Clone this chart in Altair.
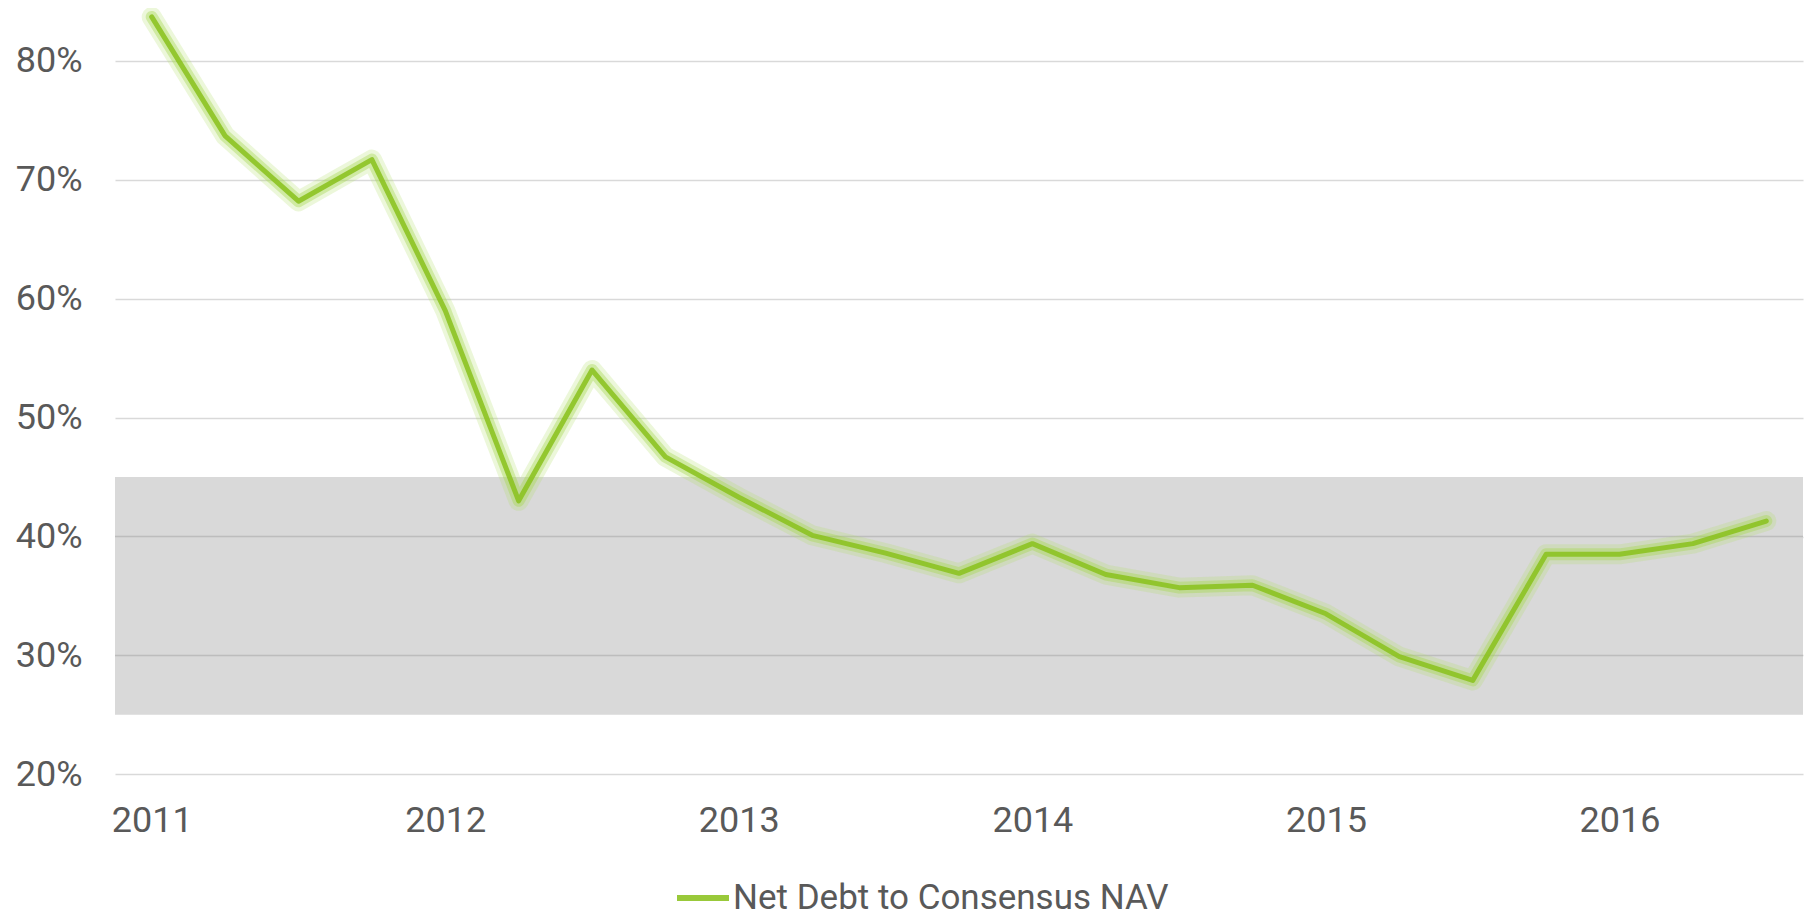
import altair as alt
import pandas as pd

quarters = [
    "2011 Q1", "2011 Q2", "2011 Q3", "2011 Q4",
    "2012 Q1", "2012 Q2", "2012 Q3", "2012 Q4",
    "2013 Q1", "2013 Q2", "2013 Q3", "2013 Q4",
    "2014 Q1", "2014 Q2", "2014 Q3", "2014 Q4",
    "2015 Q1", "2015 Q2", "2015 Q3", "2015 Q4",
    "2016 Q1", "2016 Q2", "2016 Q3",
]
net_debt_pct = [
    83.7, 73.7, 68.2, 71.7,
    59.0, 43.0, 54.0, 46.7,
    43.3, 40.1, 38.6, 36.9,
    39.4, 36.8, 35.7, 35.9,
    33.5, 29.9, 27.9, 38.5,
    38.5, 39.4, 41.3,
]
series_name = "Net Debt to Consensus NAV"
band_low = [25]
band_high = [45]
y_ticks = [20, 30, 40, 50, 60, 70, 80]
band_grid = [30, 40]

df = pd.DataFrame({"quarter": quarters, "value": net_debt_pct, "series": series_name})
band_df = pd.DataFrame({"low": band_low, "high": band_high})
grid_df = pd.DataFrame({"v": band_grid})

FONT = "Roboto"
TXT = "#595959"
GREEN = "#8BC21F"

x_enc = alt.X(
    "quarter:N",
    sort=quarters,
    scale=alt.Scale(type="point", padding=0.5),
    axis=alt.Axis(
        title=None,
        labelExpr="slice(datum.value, 5) == 'Q1' ? slice(datum.value, 0, 4) : ''",
        labelAngle=0,
        labelOverlap=False,
        ticks=False,
        domain=False,
        grid=False,
        labelFontSize=36,
        labelFont=FONT,
        labelColor=TXT,
        labelPadding=29,
        labelBaseline="top",
    ),
)
y_scale = alt.Scale(domain=[20, 84.45], nice=False, zero=False)
y_enc = alt.Y(
    "value:Q",
    scale=y_scale,
    axis=alt.Axis(
        title=None,
        values=y_ticks,
        labelExpr="datum.value + '%'",
        ticks=False,
        domain=False,
        grid=True,
        gridColor="#D9D9D9",
        gridWidth=1.5,
        labelFontSize=36,
        labelFont=FONT,
        labelColor=TXT,
        labelPadding=33,
    ),
)

band = alt.Chart(band_df).mark_rect(color="#D9D9D9").encode(
    y=alt.Y("low:Q", scale=y_scale),
    y2="high:Q",
)
band_rules = alt.Chart(grid_df).mark_rule(color="#BDBDBD", strokeWidth=1.5).encode(
    y=alt.Y("v:Q", scale=y_scale)
)

glow1 = alt.Chart(df).mark_line(
    color="#B5DE6A", strokeWidth=20, opacity=0.25, strokeJoin="round", strokeCap="round"
).encode(x=x_enc, y=y_enc)
glow2 = alt.Chart(df).mark_line(
    color="#A6D64E", strokeWidth=12, opacity=0.4, strokeJoin="round", strokeCap="round"
).encode(x=x_enc, y=y_enc)
line = alt.Chart(df).mark_line(
    strokeWidth=5, strokeJoin="round", strokeCap="round", opacity=0.88
).encode(
    x=x_enc,
    y=y_enc,
    color=alt.Color(
        "series:N",
        scale=alt.Scale(domain=[series_name], range=[GREEN]),
        legend=alt.Legend(
            title=None,
            orient="none",
            legendX=559,
            legendY=861,
            symbolType="stroke",
            symbolSize=2704,
            symbolStrokeWidth=6,
            labelFontSize=35,
            labelFont=FONT,
            labelColor=TXT,
            labelOffset=1,
            labelLimit=1000,
            padding=0,
        ),
    ),
)

chart = (
    alt.layer(band, band_rules, glow1, glow2, line)
    .properties(
        width=1688,
        height=766.3,
        autosize=alt.AutoSizeParams(type="none"),
        padding={"left": 107, "top": 0, "right": 5, "bottom": 144},
    )
    .configure_view(stroke=None)
)

chart.save("out.html", embed_options={"renderer": "svg", "actions": False})
